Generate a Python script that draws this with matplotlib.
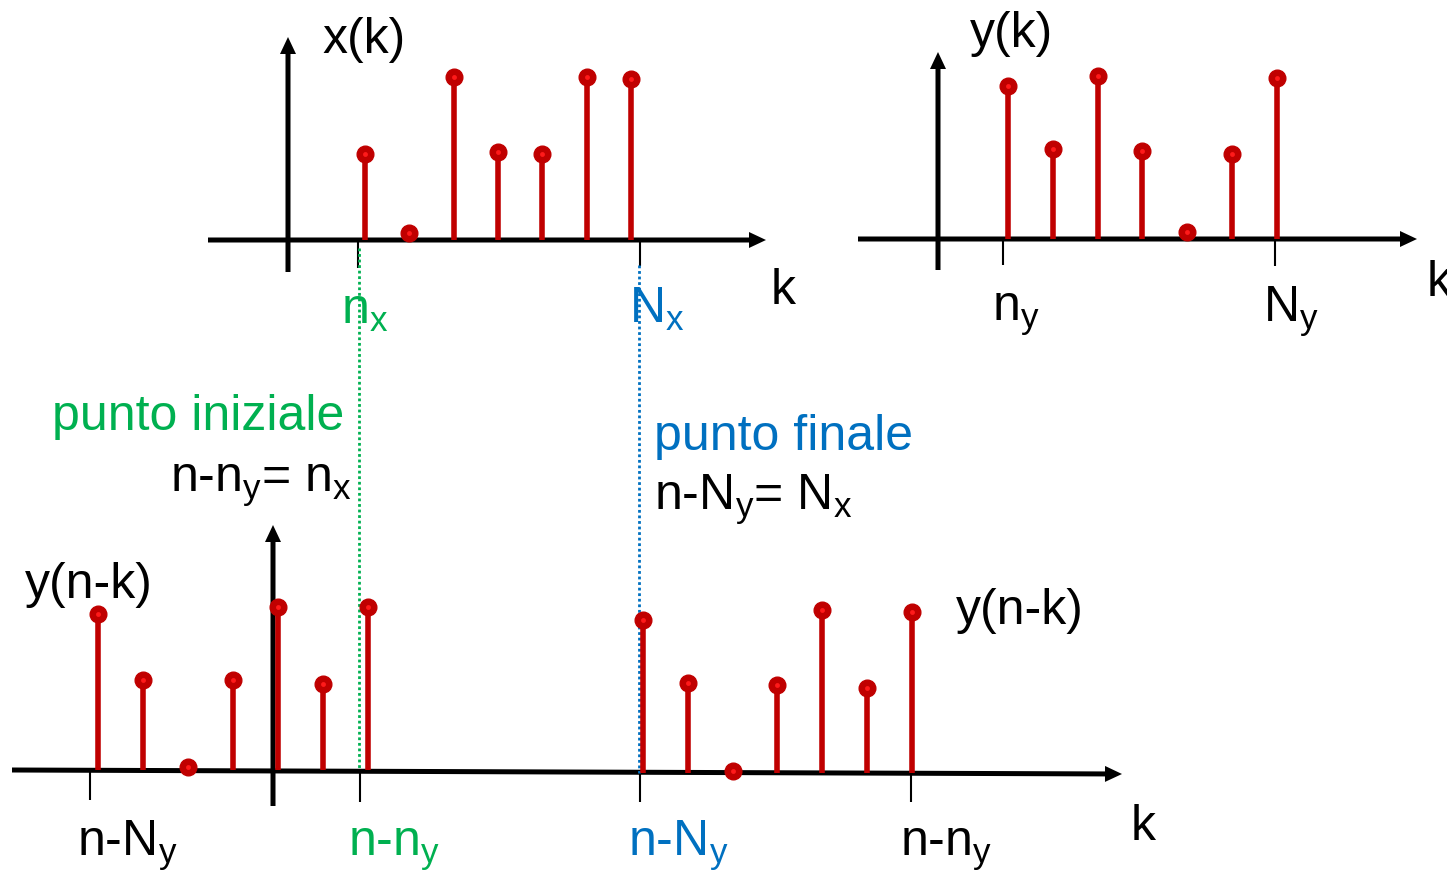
import numpy as np
import matplotlib
matplotlib.use("Agg")
import matplotlib.pyplot as plt
from matplotlib.transforms import Affine2D

# ---- sequences (amplitude normalised to the tallest sample) ----
k = np.arange(7)
x_vals = [0.53, 0.04, 1.00, 0.54, 0.53, 1.00, 0.99]          # x(k), from n_x to N_x
y_vals = [0.94, 0.55, 1.00, 0.54, 0.04, 0.52, 0.99]          # y(k), from n_y to N_y
y_shift_left = [0.96, 0.55, 0.02, 0.55, 1.00, 0.53, 1.00]    # y(n-k), first position
y_shift_right = [0.94, 0.55, 0.01, 0.54, 1.00, 0.52, 0.99]   # y(n-k), second position

plt.rcParams['font.family'] = ['Liberation Sans', 'DejaVu Sans']
plt.rcParams['mathtext.fontset'] = 'custom'
plt.rcParams['mathtext.rm'] = 'Liberation Sans'
plt.rcParams['mathtext.it'] = 'Liberation Sans'
plt.rcParams['mathtext.bf'] = 'Liberation Sans:bold'

RED = '#C00000'
GREEN = '#00B050'
BLUE = '#0070C0'
FS = 36

W, H = 1447, 872
fig = plt.figure(figsize=(W / 100, H / 100), dpi=100)
ax = fig.add_axes([0, 0, 1, 1])
ax.set_xlim(0, W)
ax.set_ylim(H, 0)
ax.axis('off')


def axis_arrow(x0, y0, x1, y1):
    ax.arrow(x0, y0, x1 - x0, y1 - y0, width=5, head_width=16, head_length=17,
             length_includes_head=True, color='black', zorder=2, lw=0)


def tick(x, y0, y1):
    ax.plot([x, x], [y0, y1], color='black', lw=1.5, zorder=2, solid_capstyle='butt')


def stems(kk, vals, x0, dk, base, amp=163):
    tr = Affine2D().scale(dk, -amp).translate(x0, base) + ax.transData
    ax.vlines(kk, 0, vals, colors=RED, lw=4.0, transform=tr, zorder=4)
    ax.plot(kk, vals, 'o', ms=12, color=RED, mec=RED, transform=tr, zorder=5)
    ax.plot(kk, vals, 'o', ms=3.5, color='#FF1A1A', mec='none', transform=tr, zorder=6)


# ---- top-left: x(k) ----
axis_arrow(208, 240, 766, 240)
axis_arrow(288, 272, 288, 37)
tick(358, 240, 268)
tick(640, 240, 266)
stems(k, x_vals, 365, 44.3, 240)

# ---- top-right: y(k) ----
axis_arrow(858, 239, 1417, 239)
axis_arrow(938, 270, 938, 52)
tick(1003, 239, 265)
tick(1275, 239, 266)
stems(k, y_vals, 1008, 44.8, 239)

# ---- bottom: y(n-k) at the two extreme shifts ----
axis_arrow(12, 770, 1122, 774)
axis_arrow(273, 806, 273, 525)
tick(90, 770, 800)
tick(360, 772, 802)
tick(640, 773, 802)
tick(911, 774, 802)
stems(k, y_shift_left, 98, 45, 770)
stems(k, y_shift_right, 643, 44.8, 773)

# ---- dotted guides linking the start and end points ----
ax.plot([359, 359], [248, 770], color=GREEN, lw=2.0, ls=(0, (1, 1)), zorder=3)
ax.plot([639, 639], [265, 773], color=BLUE, lw=2.0, ls=(0, (1, 1)), zorder=3)

# ---- labels ----
def label(x, y, s, color='black'):
    ax.text(x, y, s, fontsize=FS, color=color, ha='left', va='baseline', zorder=7)


label(322, 53, 'x(k)')
label(771, 304, 'k')
label(341, 324, 'n$_{x}$', GREEN)
label(629, 323, 'N$_{x}$', BLUE)

label(970, 47, 'y(k)')
label(1427, 296, 'k')
label(992, 321, 'n$_{y}$')
label(1263, 322, 'N$_{y}$')

label(52, 430, 'punto iniziale', GREEN)
label(170, 492, 'n-n$_{y}$= n$_{x}$')
label(654, 450, 'punto finale', BLUE)
label(654, 510, 'n-N$_{y}$= N$_{x}$')

label(25, 598, 'y(n-k)')
label(956, 624, 'y(n-k)')
label(1131, 840, 'k')
label(77, 856, 'n-N$_{y}$')
label(348, 856, 'n-n$_{y}$', GREEN)
label(628, 856, 'n-N$_{y}$', BLUE)
label(900, 856, 'n-n$_{y}$')

fig.savefig('out.png', dpi=100)
